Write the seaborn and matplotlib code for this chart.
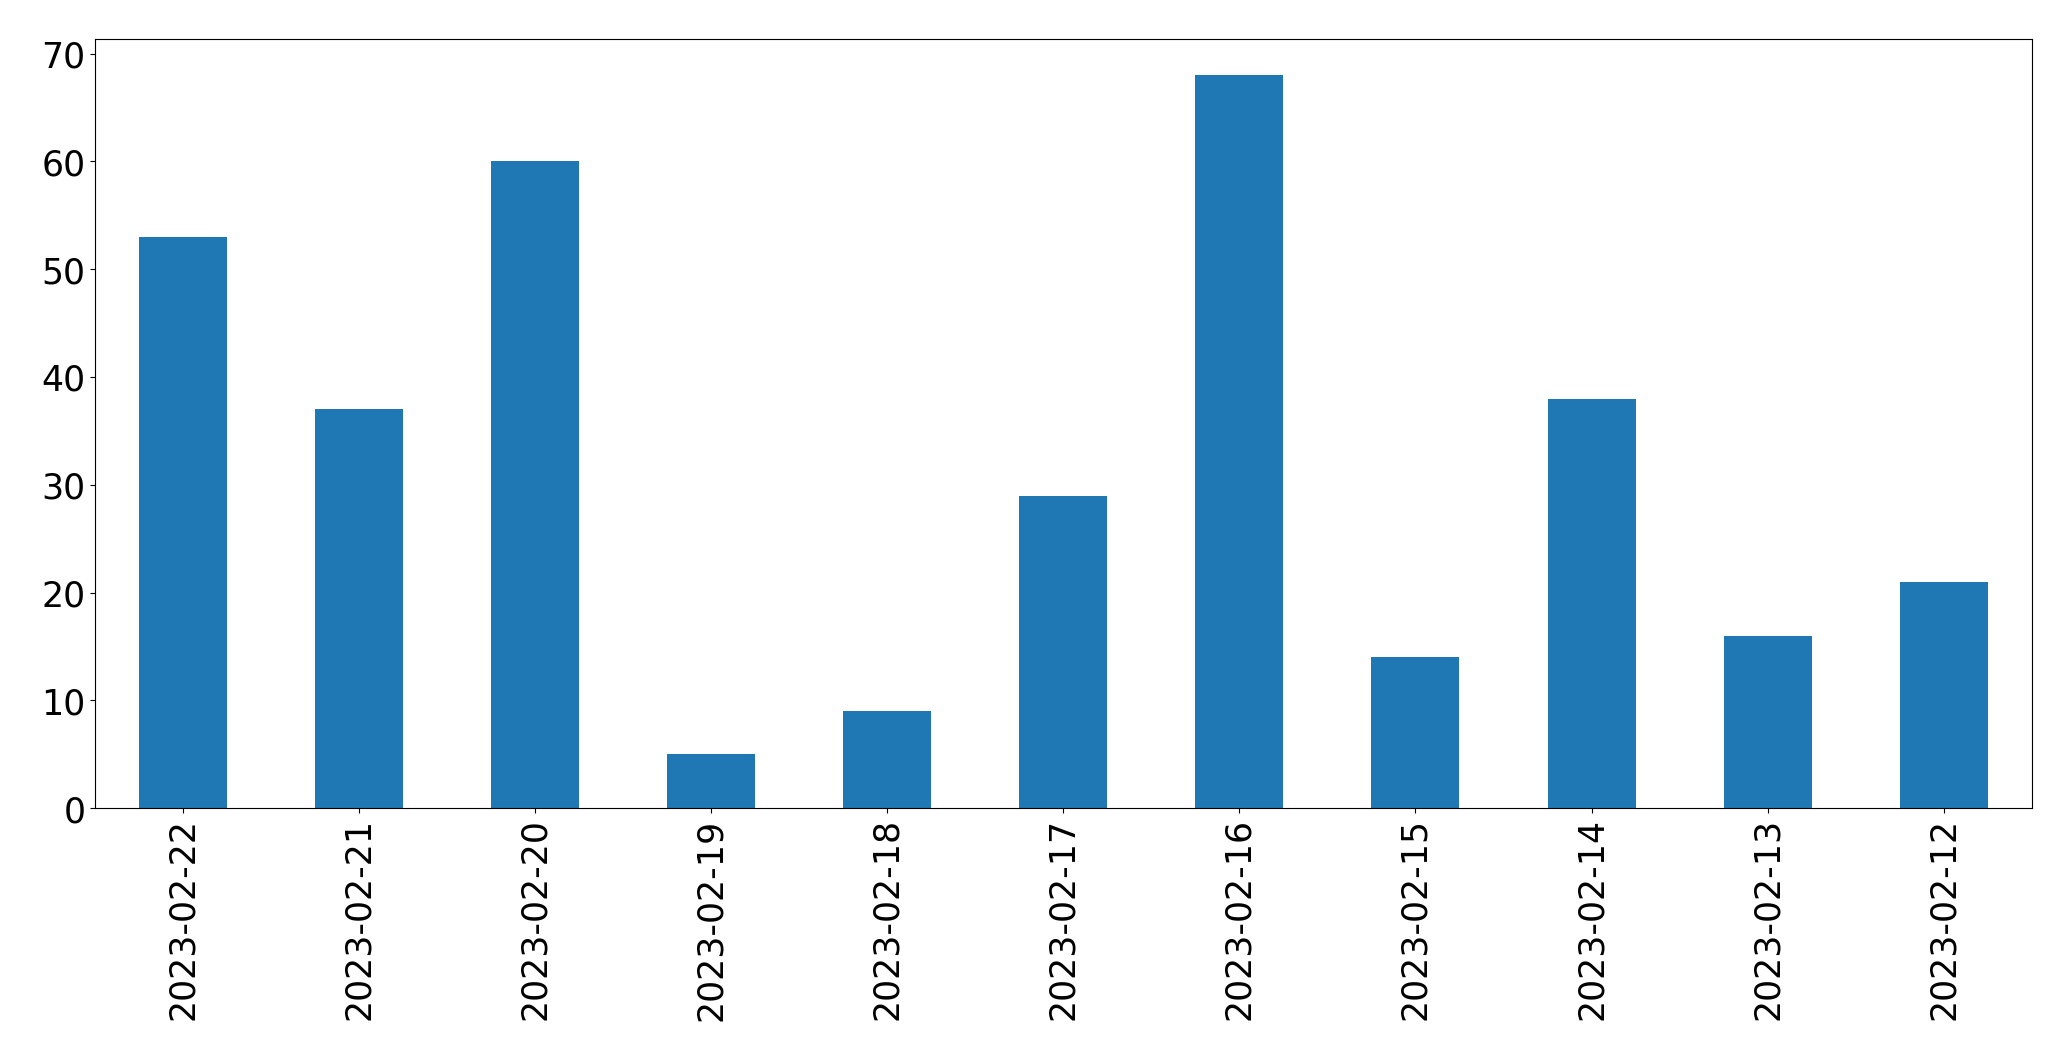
import seaborn as sns
from matplotlib import pyplot as plt
import pandas as pd

# counts per day (newest first, as in the original)
dates = ["2023-02-22", "2023-02-21", "2023-02-20", "2023-02-19", "2023-02-18",
         "2023-02-17", "2023-02-16", "2023-02-15", "2023-02-14", "2023-02-13",
         "2023-02-12"]
counts = [53, 37, 60, 5, 9, 29, 68, 14, 38, 16, 21]

df = pd.DataFrame({"date": dates, "count": counts})

fig, ax = plt.subplots(figsize=(20.71, 10.605), dpi=100)
sns.barplot(data=df, x="date", y="count", color="#1f77b4", saturation=1,
            width=0.5, ax=ax)

ax.set_xlim(-0.5, len(dates) - 0.5)
ax.set_ylim(0, max(counts) * 1.05)
ax.set_xlabel("")
ax.set_ylabel("")
ax.tick_params(axis="both", labelsize=25)
plt.setp(ax.get_xticklabels(), rotation=90)

plt.subplots_adjust(left=0.0459, right=0.981, top=0.9632, bottom=0.2375)
plt.savefig("out.png", dpi=100)
